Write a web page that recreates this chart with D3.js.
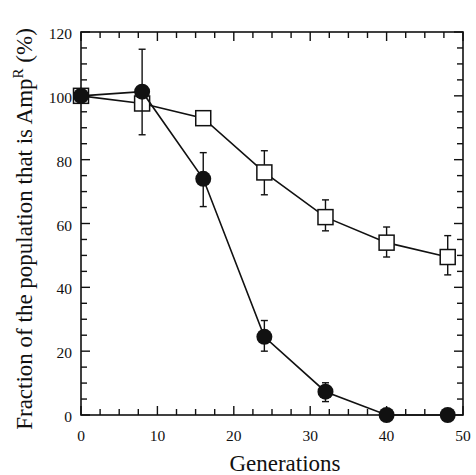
<!DOCTYPE html>
<html><head><meta charset="utf-8">
<script src="https://cdn.jsdelivr.net/npm/d3@7"></script>
<style>body{margin:0;background:#fff}svg{display:block}</style>
</head><body>
<svg id="c" width="476" height="475"></svg>
<script>
const generations = [0, 8, 16, 24, 32, 40, 48];
const circleValues = [100, 101.3, 74, 24.5, 7.3, 0, 0];
const circleErrLow = [null, 87.8, 65.3, 20, 4.2, null, null];
const circleErrHigh = [null, 114.6, 82.2, 29.6, 10.1, null, null];
const squareValues = [100, 97.6, 93, 76, 62, 54, 49.5];
const squareErrLow = [null, null, null, 69, 57.7, 49.5, 43.9];
const squareErrHigh = [null, null, null, 82.8, 67.4, 58.9, 56.2];
const xTicks = [0, 10, 20, 30, 40, 50];
const yTicks = [0, 20, 40, 60, 80, 100, 120];

const FONT = "'Liberation Serif', 'DejaVu Serif', 'Times New Roman', serif";
const svg = d3.select("#c");
const L = 81, R = 463, T = 32, B = 415;
const x = d3.scaleLinear().domain([0, 50]).range([L, R]);
const y = d3.scaleLinear().domain([0, 120]).range([B, T]);

const g = svg.append("g").attr("font-family", FONT).attr("fill", "#111");
g.append("rect").attr("x", L).attr("y", T).attr("width", R - L).attr("height", B - T)
  .attr("fill", "none").attr("stroke", "#111").attr("stroke-width", 1.6);

const xMinor = d3.range(0, 50.01, 2.5);
const yMinor = d3.range(0, 120.01, 5);
function tickLen(v, step) { return Math.abs(v % step) < 1e-6 ? 9 : 6; }
xMinor.forEach(v => {
  const len = tickLen(v, 10);
  g.append("line").attr("x1", x(v)).attr("x2", x(v)).attr("y1", B).attr("y2", B - len).attr("stroke", "#111").attr("stroke-width", 1.4);
  g.append("line").attr("x1", x(v)).attr("x2", x(v)).attr("y1", T).attr("y2", T + len).attr("stroke", "#111").attr("stroke-width", 1.4);
});
yMinor.forEach(v => {
  const len = tickLen(v, 20);
  g.append("line").attr("y1", y(v)).attr("y2", y(v)).attr("x1", L).attr("x2", L + len).attr("stroke", "#111").attr("stroke-width", 1.4);
  g.append("line").attr("y1", y(v)).attr("y2", y(v)).attr("x1", R).attr("x2", R - len).attr("stroke", "#111").attr("stroke-width", 1.4);
});
g.selectAll(".xl").data(xTicks).enter().append("text")
  .attr("x", d => x(d)).attr("y", B + 26).attr("text-anchor", "middle").attr("font-size", 15.5).text(d => d);
g.selectAll(".yl").data(yTicks).enter().append("text")
  .attr("x", L - 9).attr("y", d => y(d) + 7).attr("text-anchor", "end").attr("font-size", 15.5).text(d => d);

g.append("text").attr("x", 285).attr("y", 471).attr("text-anchor", "middle").attr("font-size", 23).text("Generations");
const yt = g.append("text").attr("transform", "translate(32,229) rotate(-90)").attr("text-anchor", "middle").attr("font-size", 23);
yt.append("tspan").text("Fraction of the population that is Amp");
yt.append("tspan").attr("font-size", 15).attr("dy", -9).text("R");
yt.append("tspan").attr("dy", 9).text(" (%)");

const line = d3.line().x((d, i) => x(generations[i])).y(d => y(d));
function errorBars(lo, hi) {
  generations.forEach((gx, i) => {
    if (lo[i] == null) return;
    const cx = x(gx);
    g.append("line").attr("x1", cx).attr("x2", cx).attr("y1", y(lo[i])).attr("y2", y(hi[i])).attr("stroke", "#111").attr("stroke-width", 1.4);
    [lo[i], hi[i]].forEach(v => g.append("line").attr("x1", cx - 3.5).attr("x2", cx + 3.5).attr("y1", y(v)).attr("y2", y(v)).attr("stroke", "#111").attr("stroke-width", 1.4));
  });
}
errorBars(squareErrLow, squareErrHigh);
g.append("path").datum(squareValues).attr("d", line).attr("fill", "none").attr("stroke", "#111").attr("stroke-width", 1.6);
g.selectAll(".sq").data(squareValues).enter().append("rect")
  .attr("x", (d, i) => x(generations[i]) - 7.5).attr("y", d => y(d) - 7.5)
  .attr("width", 15).attr("height", 15).attr("fill", "#fff").attr("stroke", "#111").attr("stroke-width", 1.5);
errorBars(circleErrLow, circleErrHigh);
g.append("path").datum(circleValues).attr("d", line).attr("fill", "none").attr("stroke", "#111").attr("stroke-width", 1.6);
g.selectAll(".ci").data(circleValues).enter().append("circle")
  .attr("cx", (d, i) => x(generations[i])).attr("cy", d => y(d)).attr("r", 8).attr("fill", "#111");
</script>
</body></html>
